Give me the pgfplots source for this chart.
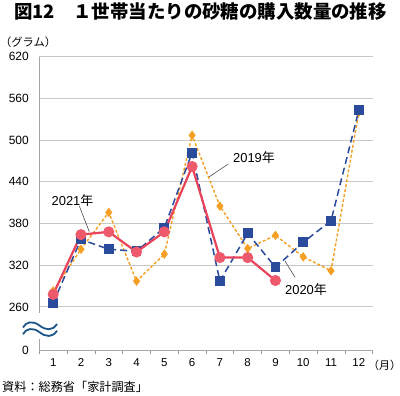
\documentclass[border=0pt]{standalone}
\usepackage{fontspec}
\setmainfont{Liberation Sans}
\newfontfamily\jp{Noto Sans CJK JP}
\usepackage{pgfplots}
\pgfplotsset{compat=1.18}
\definecolor{cred}{HTML}{E8435A}
\definecolor{credfill}{HTML}{EE5A6C}
\definecolor{cblue}{HTML}{2A4A9C}
\definecolor{corange}{HTML}{F4A024}
\definecolor{cwave}{HTML}{1B5488}
\definecolor{cgrid}{HTML}{C8C8C8}
\begin{document}
\begin{tikzpicture}
\path[use as bounding box] (0bp,0bp) rectangle (400bp,-396bp);
\begin{axis}[at={(39.3bp,-350bp)}, anchor=south west, scale only axis,
  width=333.4bp, height=293.3bp, clip=false,
  xmin=0.5, xmax=12.5, ymin=198, ymax=620,
  xtick={1,...,12}, minor xtick={0.5,1.5,...,12.5},
  ytick={260,320,...,620},
  extra y ticks={198}, extra y tick labels={0}, extra y tick style={grid=none},
  ymajorgrids, grid style={cgrid, line width=0.9bp},
  axis line style={draw=none},
  major tick length=0pt, minor tick length=4bp, tick align=outside,
  minor tick style={gray!80, line width=0.6bp},
  xtick pos=lower, ytick pos=left,
  /pgf/number format/assume math mode=true,
  yticklabel style={font=\fontsize{12}{12}\selectfont, xshift=-7bp},
  xticklabel style={font=\fontsize{11.5}{12}\selectfont, yshift=-5bp},
]
\draw[gray!70, line width=0.8bp] (axis cs:0.5,198) -- (axis cs:12.5,198);
\draw[gray!70, line width=0.8bp] (axis cs:0.5,620) -- (axis cs:0.5,251);
\draw[gray!70, line width=0.8bp] (axis cs:0.5,198) -- (axis cs:0.5,214);
% 2019
\addplot[corange, line width=1.4bp, dash pattern=on 3bp off 2bp,
  mark=diamond*, mark size=3.6bp, mark options={solid, fill=corange}]
  coordinates {(1,283)(2,343)(3,396)(4,297)(5,336)(6,507)(7,405)(8,344)(9,363)(10,332)(11,312)(12,540)};
% 2020
\addplot[cblue, line width=1.5bp, dash pattern=on 7bp off 4bp,
  mark=square*, mark size=4.2bp, mark options={solid, fill=cblue}]
  coordinates {(1,266)(2,357)(3,343)(4,340)(5,374)(6,482)(7,297)(8,366)(9,317)(10,353)(11,384)(12,543)};
% 2021
\addplot[cred, line width=2.2bp,
  mark=*, mark size=4.4bp, mark options={solid, fill=credfill, draw=credfill}]
  coordinates {(1,278)(2,364)(3,368)(4,339)(5,368)(6,462)(7,331)(8,331)(9,298)};
\end{axis}
\begin{scope}[x=1bp,y=1bp]
% wave break
\draw[cwave, line width=1.8bp] (23,-327.5) .. controls (26,-321.5) and (33,-320.5) .. (39.5,-325.5) .. controls (46,-330.5) and (52.5,-331) .. (57,-324);
\draw[cwave, line width=1.8bp] (23,-334.2) .. controls (26,-328.2) and (33,-327.2) .. (39.5,-332.2) .. controls (46,-337.2) and (52.5,-337.7) .. (57,-330.7);
% leader lines
\draw[gray!60!black, line width=0.6bp] (79.3,-206) -- (89.3,-231.7);
\draw[gray!60!black, line width=0.6bp] (228.3,-164) -- (209.3,-176.7);
\draw[gray!60!black, line width=0.6bp] (295,-277.3) -- (285,-261);
% labels
\node[font=\fontsize{13}{13}\selectfont, inner sep=0] at (72.5,-201) {2021{\jp 年}};
\node[font=\fontsize{13}{13}\selectfont, inner sep=0] at (254,-157.7) {2019{\jp 年}};
\node[font=\fontsize{13}{13}\selectfont, inner sep=0] at (306,-289.5) {2020{\jp 年}};
% title and texts
\node[anchor=base west, inner sep=0, font=\jp\bfseries\fontsize{18.5}{18.5}\selectfont] at (14,-18.5) {図12　１世帯当たりの砂糖の購入数量の推移};
\node[anchor=west, inner sep=0, font=\jp\fontsize{11.3}{11.3}\selectfont] at (0,-42.5) {（グラム）};
\node[anchor=west, inner sep=0, font=\jp\fontsize{11}{11}\selectfont] at (368,-365) {（月）};
\node[anchor=west, inner sep=0, font=\jp\fontsize{12.2}{12.2}\selectfont] at (2,-387) {資料：総務省「家計調査」};
\end{scope}
\end{tikzpicture}
\end{document}
